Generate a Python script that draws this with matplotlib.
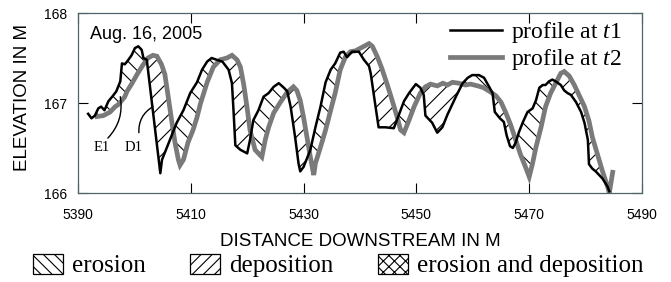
import numpy as np
import matplotlib
matplotlib.use("Agg")
import matplotlib.pyplot as plt
from matplotlib.patches import Patch

plt.rcParams['font.family'] = ['Liberation Sans', 'DejaVu Sans']
plt.rcParams['mathtext.fontset'] = 'custom'
plt.rcParams['mathtext.it'] = 'Liberation Serif:italic'
plt.rcParams['mathtext.rm'] = 'Liberation Serif'
plt.rcParams['hatch.linewidth'] = 0.8

## profile at t1 (black) : distance (m), elevation (m)
dist_t1 = [5391.8, 5392.4, 5393.0, 5393.6, 5394.1, 5394.7, 5395.4, 5396.2, 5396.8, 5397.5,
           5397.8, 5398.3, 5398.7, 5399.5, 5400.1, 5400.7, 5401.3, 5401.6, 5402.2, 5404.6,
           5404.9, 5406.3, 5407.5, 5408.7, 5409.9, 5411.1, 5412.0, 5412.9, 5413.7, 5414.6,
           5415.6, 5416.7, 5417.3, 5417.6, 5417.9, 5418.8, 5420.0, 5420.5, 5421.1, 5422.0,
           5422.9, 5423.8, 5424.7, 5425.6, 5426.5, 5427.1, 5427.7, 5428.5, 5429.1, 5429.4,
           5430.0, 5431.2, 5432.1, 5433.0, 5433.9, 5434.8, 5435.6, 5436.5, 5437.1, 5437.7,
           5438.6, 5439.8, 5440.7, 5441.6, 5441.9, 5442.5, 5443.3, 5444.5, 5446.0, 5446.9,
           5447.8, 5448.7, 5449.9, 5450.7, 5451.3, 5451.6, 5452.8, 5453.7, 5454.6, 5455.5,
           5457.0, 5458.2, 5459.1, 5459.9, 5461.1, 5462.0, 5462.9, 5463.5, 5463.9, 5464.8,
           5465.5, 5466.0, 5466.6, 5467.1, 5467.6, 5468.2, 5468.9, 5469.7, 5470.6, 5471.2,
           5471.8, 5472.4, 5472.9, 5473.5, 5474.1, 5474.7, 5475.6, 5476.2, 5476.8, 5477.4,
           5478.3, 5479.2, 5479.8, 5480.4, 5480.6, 5481.2, 5481.8, 5483.0, 5483.9, 5484.2]
elev_t1 = [166.88, 166.83, 166.86, 166.94, 166.96, 166.92, 167.02, 167.08, 167.13, 167.24,
           167.44, 167.43, 167.46, 167.53, 167.61, 167.63, 167.59, 167.50, 167.48, 166.22,
           166.37, 166.59, 166.78, 166.92, 167.11, 167.23, 167.37, 167.46, 167.50, 167.48,
           167.46, 167.37, 167.22, 166.89, 166.53, 166.48, 166.44, 166.59, 166.81, 166.92,
           167.07, 167.11, 167.18, 167.22, 167.17, 167.13, 166.96, 166.62, 166.33, 166.24,
           166.29, 166.48, 166.73, 166.96, 167.23, 167.37, 167.44, 167.56, 167.57, 167.51,
           167.57, 167.57, 167.48, 167.41, 167.33, 167.07, 166.73, 166.73, 166.72, 166.87,
           167.02, 167.11, 167.21, 167.17, 167.09, 166.86, 166.78, 166.67, 166.73, 166.87,
           167.07, 167.22, 167.28, 167.31, 167.31, 167.28, 167.18, 167.11, 166.90, 166.83,
           166.79, 166.64, 166.52, 166.50, 166.56, 166.68, 166.79, 166.90, 166.94, 167.03,
           167.17, 167.20, 167.20, 167.24, 167.26, 167.24, 167.20, 167.14, 167.11, 167.09,
           167.01, 166.90, 166.78, 166.59, 166.32, 166.27, 166.24, 166.16, 166.07, 166.02]

## profile at t2 (grey)
dist_t2 = [5393.4, 5394.5, 5395.7, 5396.6, 5397.1, 5397.8, 5398.3, 5398.7, 5399.5, 5400.5,
           5401.5, 5402.4, 5403.3, 5404.0, 5404.8, 5405.4, 5406.0, 5406.6, 5407.2, 5407.8,
           5408.1, 5408.7, 5409.5, 5410.4, 5411.1, 5411.7, 5412.9, 5414.0, 5415.2, 5416.4,
           5417.3, 5418.2, 5418.8, 5419.4, 5420.0, 5420.5, 5421.4, 5422.6, 5423.2, 5423.8,
           5424.7, 5425.9, 5427.1, 5428.2, 5428.8, 5429.4, 5430.0, 5430.6, 5431.2, 5431.8,
           5432.1, 5433.0, 5433.9, 5434.8, 5435.6, 5436.5, 5437.4, 5438.3, 5439.2, 5440.1,
           5441.0, 5441.6, 5442.2, 5443.1, 5443.9, 5444.8, 5445.7, 5446.6, 5447.2, 5447.8,
           5448.7, 5449.6, 5450.7, 5451.6, 5452.5, 5453.7, 5454.7, 5455.5, 5456.4, 5457.5,
           5458.7, 5459.6, 5460.9, 5461.9, 5463.2, 5464.1, 5465.0, 5465.8, 5466.7, 5467.6,
           5468.5, 5469.4, 5470.0, 5470.6, 5471.2, 5472.1, 5472.9, 5473.8, 5474.7, 5475.6,
           5476.2, 5477.1, 5478.0, 5478.9, 5479.8, 5480.6, 5481.2, 5482.1, 5483.0, 5483.9,
           5484.2, 5484.8]
elev_t2 = [166.85, 166.86, 166.90, 166.96, 166.98, 167.03, 167.07, 167.13, 167.21, 167.32,
           167.42, 167.50, 167.53, 167.52, 167.43, 167.32, 167.07, 166.81, 166.56, 166.37,
           166.31, 166.37, 166.56, 166.70, 166.84, 166.99, 167.23, 167.40, 167.48, 167.50,
           167.53, 167.48, 167.40, 167.20, 166.94, 166.70, 166.48, 166.40, 166.59, 166.73,
           166.89, 167.01, 167.12, 167.18, 167.14, 167.03, 166.84, 166.62, 166.40, 166.20,
           166.33, 166.51, 166.70, 166.92, 167.11, 167.37, 167.51, 167.57, 167.58, 167.61,
           167.64, 167.66, 167.63, 167.51, 167.38, 167.21, 167.03, 166.84, 166.70, 166.67,
           166.81, 166.96, 167.11, 167.18, 167.21, 167.19, 167.22, 167.20, 167.23, 167.22,
           167.20, 167.21, 167.19, 167.17, 167.12, 167.08, 167.01, 166.90, 166.76, 166.59,
           166.42, 166.28, 166.18, 166.33, 166.51, 166.73, 166.96, 167.11, 167.22, 167.33,
           167.35, 167.30, 167.20, 167.08, 166.96, 166.80, 166.62, 166.43, 166.24, 166.07,
           166.00, 166.23]

xticks = [5390, 5410, 5430, 5450, 5470, 5490]
yticks = [166, 167, 168]

x1 = np.array(dist_t1); y1 = np.array(elev_t1)
x2 = np.array(dist_t2); y2 = np.array(elev_t2)

# common grid for the hatched difference areas
xs = np.union1d(x1, x2)
xs = xs[(xs >= max(x1[0], x2[0])) & (xs <= min(x1[-1], x2[-1]))]
y1i = np.interp(xs, x1, y1)
y2i = np.interp(xs, x2, y2)

fig = plt.figure(figsize=(6.71, 2.82), dpi=100)
ax = fig.add_axes([0.1162, 0.3156, 0.8406, 0.6383])

ax.fill_between(xs, y1i, y2i, where=y1i > y2i, interpolate=True, facecolor='none',
                edgecolor='black', hatch='\\\\', linewidth=0, zorder=1)
ax.fill_between(xs, y1i, y2i, where=y2i > y1i, interpolate=True, facecolor='none',
                edgecolor='black', hatch='//', linewidth=0, zorder=1)

l2, = ax.plot(x2, y2, color='#7a7a7a', linewidth=3.4, solid_joinstyle='miter', zorder=2)
l1, = ax.plot(x1, y1, color='black', linewidth=1.8, zorder=3)

ax.set_xlim(5390, 5490)
ax.set_ylim(166, 168)
ax.set_xticks(xticks)
ax.set_yticks(yticks)
ax.tick_params(direction='in', top=True, right=True, length=7, width=0.8,
               labelsize=10, color='black')
ax.tick_params(axis='x', pad=11)
ax.tick_params(axis='y', pad=8)
for s in ax.spines.values():
    s.set_color('#50656b')
    s.set_linewidth(0.9)

ax.set_xlabel('DISTANCE DOWNSTREAM IN M', fontsize=13.5, labelpad=8)
ax.set_ylabel('ELEVATION IN M', fontsize=13.5)
ax.yaxis.set_label_coords(-0.083, 0.533)

ax.text(0.0213, 0.856, 'Aug. 16, 2005', transform=ax.transAxes, fontsize=13,
        va='baseline', ha='left')

# E1 / D1 markers
serif = {'family': 'Liberation Serif', 'size': 10.5}
ax.annotate('', xy=(5397.5, 167.07), xytext=(5395.3, 166.61),
            arrowprops=dict(arrowstyle='-', color='black', lw=1.0,
                            connectionstyle='arc3,rad=0.25', shrinkA=0, shrinkB=0))
ax.annotate('', xy=(5403.3, 166.96), xytext=(5400.8, 166.67),
            arrowprops=dict(arrowstyle='-', color='black', lw=1.0,
                            connectionstyle='arc3,rad=-0.3', shrinkA=0, shrinkB=0))
ax.text(5394.3, 166.51, 'E1', fontdict=serif, ha='center', va='center')
ax.text(5399.8, 166.51, 'D1', fontdict=serif, ha='center', va='center')

leg = ax.legend([l1, l2], ['profile at $t1$', 'profile at $t2$'],
                loc='upper right', bbox_to_anchor=(0.9645, 0.961), frameon=False,
                prop={'family': 'Liberation Serif', 'size': 17}, handlelength=2.2,
                handletextpad=0.4, labelspacing=0.1, borderpad=0, borderaxespad=0)

hatch_handles = [Patch(facecolor='white', edgecolor='black', hatch='\\\\\\', linewidth=0.9),
                 Patch(facecolor='white', edgecolor='black', hatch='///', linewidth=0.9),
                 Patch(facecolor='white', edgecolor='black', hatch='xxx', linewidth=0.9)]
fig.legend(hatch_handles, ['erosion', 'deposition', 'erosion and deposition'],
           loc='center', bbox_to_anchor=(0.504, 0.058), ncol=3, frameon=False,
           prop={'family': 'Liberation Serif', 'size': 18}, handlelength=1.2,
           handleheight=0.85, handletextpad=0.35, columnspacing=1.8,
           borderpad=0, borderaxespad=0)

fig.savefig('out.png', dpi=100)
